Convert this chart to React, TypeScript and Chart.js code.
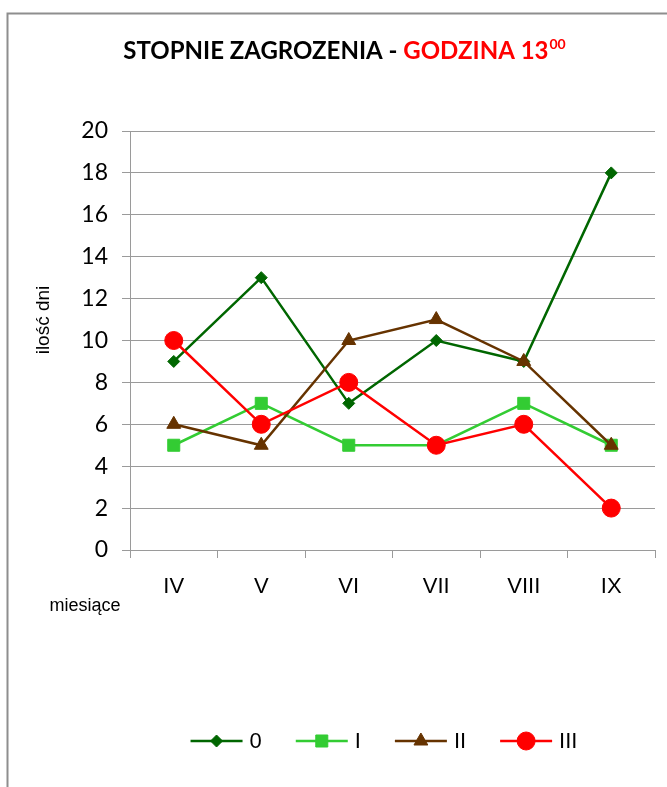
import React, { useEffect, useRef } from "react";
import { Chart, registerables } from "chart.js";

Chart.register(...registerables);

const categories = ["IV", "V", "VI", "VII", "VIII", "IX"];
const series0 = [9, 13, 7, 10, 9, 18];
const seriesI = [5, 7, 5, 5, 7, 5];
const seriesII = [6, 5, 10, 11, 9, 5];
const seriesIII = [10, 6, 8, 5, 6, 2];
const seriesNames = ["0", "I", "II", "III"];
const seriesColors = ["#006600", "#33CC33", "#663300", "#FF0000"];
const seriesPointStyles = ["rectRot", "rect", "triangle", "circle"];
const seriesPointRadius = [6, 8.5, 8, 9];
const yMin = 0;
const yMax = 20;
const yStep = 2;
const titleBlack = "STOPNIE ZAGROZENIA - ";
const titleRed = "GODZINA 13";
const titleSup = "00";
const xAxisTitle = "miesiące";
const yAxisTitle = "ilość dni";

const W = 667;
const H = 787;

function drawMarker(
  ctx: CanvasRenderingContext2D,
  style: string,
  r: number,
  x: number,
  y: number
) {
  ctx.beginPath();
  if (style === "circle") {
    ctx.arc(x, y, r, 0, Math.PI * 2);
  } else if (style === "rect") {
    const s = Math.SQRT1_2 * r;
    ctx.rect(x - s, y - s, 2 * s, 2 * s);
  } else if (style === "rectRot") {
    ctx.moveTo(x, y - r);
    ctx.lineTo(x + r, y);
    ctx.lineTo(x, y + r);
    ctx.lineTo(x - r, y);
    ctx.closePath();
  } else if (style === "triangle") {
    const a = -Math.PI / 2;
    for (let k = 0; k < 3; k++) {
      const ang = a + (k * 2 * Math.PI) / 3;
      const px = x + Math.cos(ang) * r;
      const py = y + Math.sin(ang) * r;
      if (k === 0) ctx.moveTo(px, py);
      else ctx.lineTo(px, py);
    }
    ctx.closePath();
  }
  ctx.fill();
  ctx.stroke();
}

const decorPlugin = {
  id: "decor",
  beforeDraw(chart: any) {
    const ctx = chart.ctx as CanvasRenderingContext2D;
    ctx.save();
    ctx.fillStyle = "#ffffff";
    ctx.fillRect(0, 0, chart.width, chart.height);
    ctx.strokeStyle = "#8e8e8e";
    ctx.lineWidth = 2;
    ctx.beginPath();
    ctx.moveTo(7.5, chart.height);
    ctx.lineTo(7.5, 13.5);
    ctx.lineTo(chart.width, 13.5);
    ctx.stroke();
    ctx.restore();
  },
  afterDraw(chart: any) {
    const ctx = chart.ctx as CanvasRenderingContext2D;
    ctx.save();
    // Title
    const tf = "bold 24px Lato, 'Open Sans', sans-serif";
    const sf = "bold 14px Lato, 'Open Sans', sans-serif";
    ctx.font = tf;
    const wB = ctx.measureText(titleBlack).width;
    const wR = ctx.measureText(titleRed).width;
    ctx.font = sf;
    const wS = ctx.measureText(titleSup).width;
    const total = wB + wR + wS;
    let x = 344 - total / 2;
    const baseY = 59;
    ctx.textBaseline = "alphabetic";
    ctx.textAlign = "left";
    ctx.font = tf;
    ctx.fillStyle = "#000000";
    ctx.fillText(titleBlack, x, baseY);
    x += wB;
    ctx.fillStyle = "#FF0000";
    ctx.fillText(titleRed, x, baseY);
    x += wR;
    ctx.font = sf;
    ctx.fillText(titleSup, x + 1, baseY - 10);

    // Axis titles
    ctx.fillStyle = "#000000";
    ctx.font = "18px 'Liberation Sans', Arial, sans-serif";
    ctx.textAlign = "center";
    ctx.textBaseline = "middle";
    ctx.fillText(xAxisTitle, 85, 606);
    ctx.save();
    ctx.translate(44, 320);
    ctx.rotate(-Math.PI / 2);
    ctx.font = "19px 'Liberation Sans', Arial, sans-serif";
    ctx.fillText(yAxisTitle, 0, 0);
    ctx.restore();

    // Legend
    const lineLen = 52;
    const gapText = 7;
    const gapItem = 34;
    ctx.font = "22px 'Liberation Sans', Arial, sans-serif";
    const widths = seriesNames.map((n) => ctx.measureText(n).width);
    const totalW =
      widths.reduce((a, b) => a + b, 0) +
      seriesNames.length * (lineLen + gapText) +
      (seriesNames.length - 1) * gapItem;
    let lx = 384 - totalW / 2;
    const ly = 741;
    chart.data.datasets.forEach((ds: any, i: number) => {
      ctx.strokeStyle = ds.borderColor;
      ctx.lineWidth = ds.borderWidth;
      ctx.beginPath();
      ctx.moveTo(lx, ly);
      ctx.lineTo(lx + lineLen, ly);
      ctx.stroke();
      ctx.fillStyle = ds.pointBackgroundColor;
      ctx.strokeStyle = ds.pointBorderColor;
      ctx.lineWidth = 1;
      drawMarker(ctx, ds.pointStyle, ds.pointRadius, lx + lineLen / 2, ly);
      ctx.fillStyle = "#000000";
      ctx.textAlign = "left";
      ctx.textBaseline = "middle";
      ctx.fillText(seriesNames[i], lx + lineLen + gapText, ly + 1);
      lx += lineLen + gapText + widths[i] + gapItem;
    });
    ctx.restore();
  },
};

export default function App() {
  const ref = useRef<HTMLCanvasElement | null>(null);
  useEffect(() => {
    if (!ref.current) return;
    const all = [series0, seriesI, seriesII, seriesIII];
    const chart = new Chart(ref.current, {
      type: "line",
      data: {
        labels: categories,
        datasets: all.map((d, i) => ({
          label: seriesNames[i],
          data: d,
          borderColor: seriesColors[i],
          backgroundColor: seriesColors[i],
          pointBackgroundColor: seriesColors[i],
          pointBorderColor: seriesColors[i],
          pointStyle: seriesPointStyles[i],
          pointRadius: seriesPointRadius[i],
          pointBorderWidth: 1,
          borderWidth: 2.5,
          tension: 0,
          fill: false,
          order: all.length - 1 - i,
        })),
      },
      options: {
        animation: false,
        responsive: false,
        maintainAspectRatio: false,
        layout: { padding: { left: 0, top: 131, right: 12, bottom: 0 } },
        plugins: {
          legend: { display: false },
          title: { display: false },
          tooltip: { enabled: false },
        },
        scales: {
          x: {
            type: "category",
            offset: true,
            grid: {
              offset: true,
              drawOnChartArea: false,
              drawTicks: true,
              tickLength: 8,
              color: "#9a9a9a",
              lineWidth: 1,
            },
            border: { display: true, color: "#9a9a9a", width: 1 },
            ticks: {
              color: "#000000",
              font: { family: "'Liberation Sans', Arial, sans-serif", size: 22 },
              padding: 16,
              maxRotation: 0,
            },
            afterFit: (s: any) => {
              s.height = 237;
            },
          },
          y: {
            min: yMin,
            max: yMax,
            ticks: {
              stepSize: yStep,
              color: "#000000",
              font: { family: "Lato, 'Open Sans', sans-serif", size: 23 },
              padding: 14,
            },
            grid: {
              color: "#9a9a9a",
              lineWidth: 1,
              drawTicks: true,
              tickLength: 8,
            },
            border: { display: true, color: "#9a9a9a", width: 1 },
            afterFit: (s: any) => {
              s.width = 130;
            },
          },
        },
      },
      plugins: [decorPlugin],
    } as any);
    return () => chart.destroy();
  }, []);
  return (
    <div style={{ position: "absolute", left: 0, top: 0, width: W, height: H }}>
      <canvas ref={ref} width={W} height={H} style={{ width: W, height: H, display: "block" }} />
    </div>
  );
}
